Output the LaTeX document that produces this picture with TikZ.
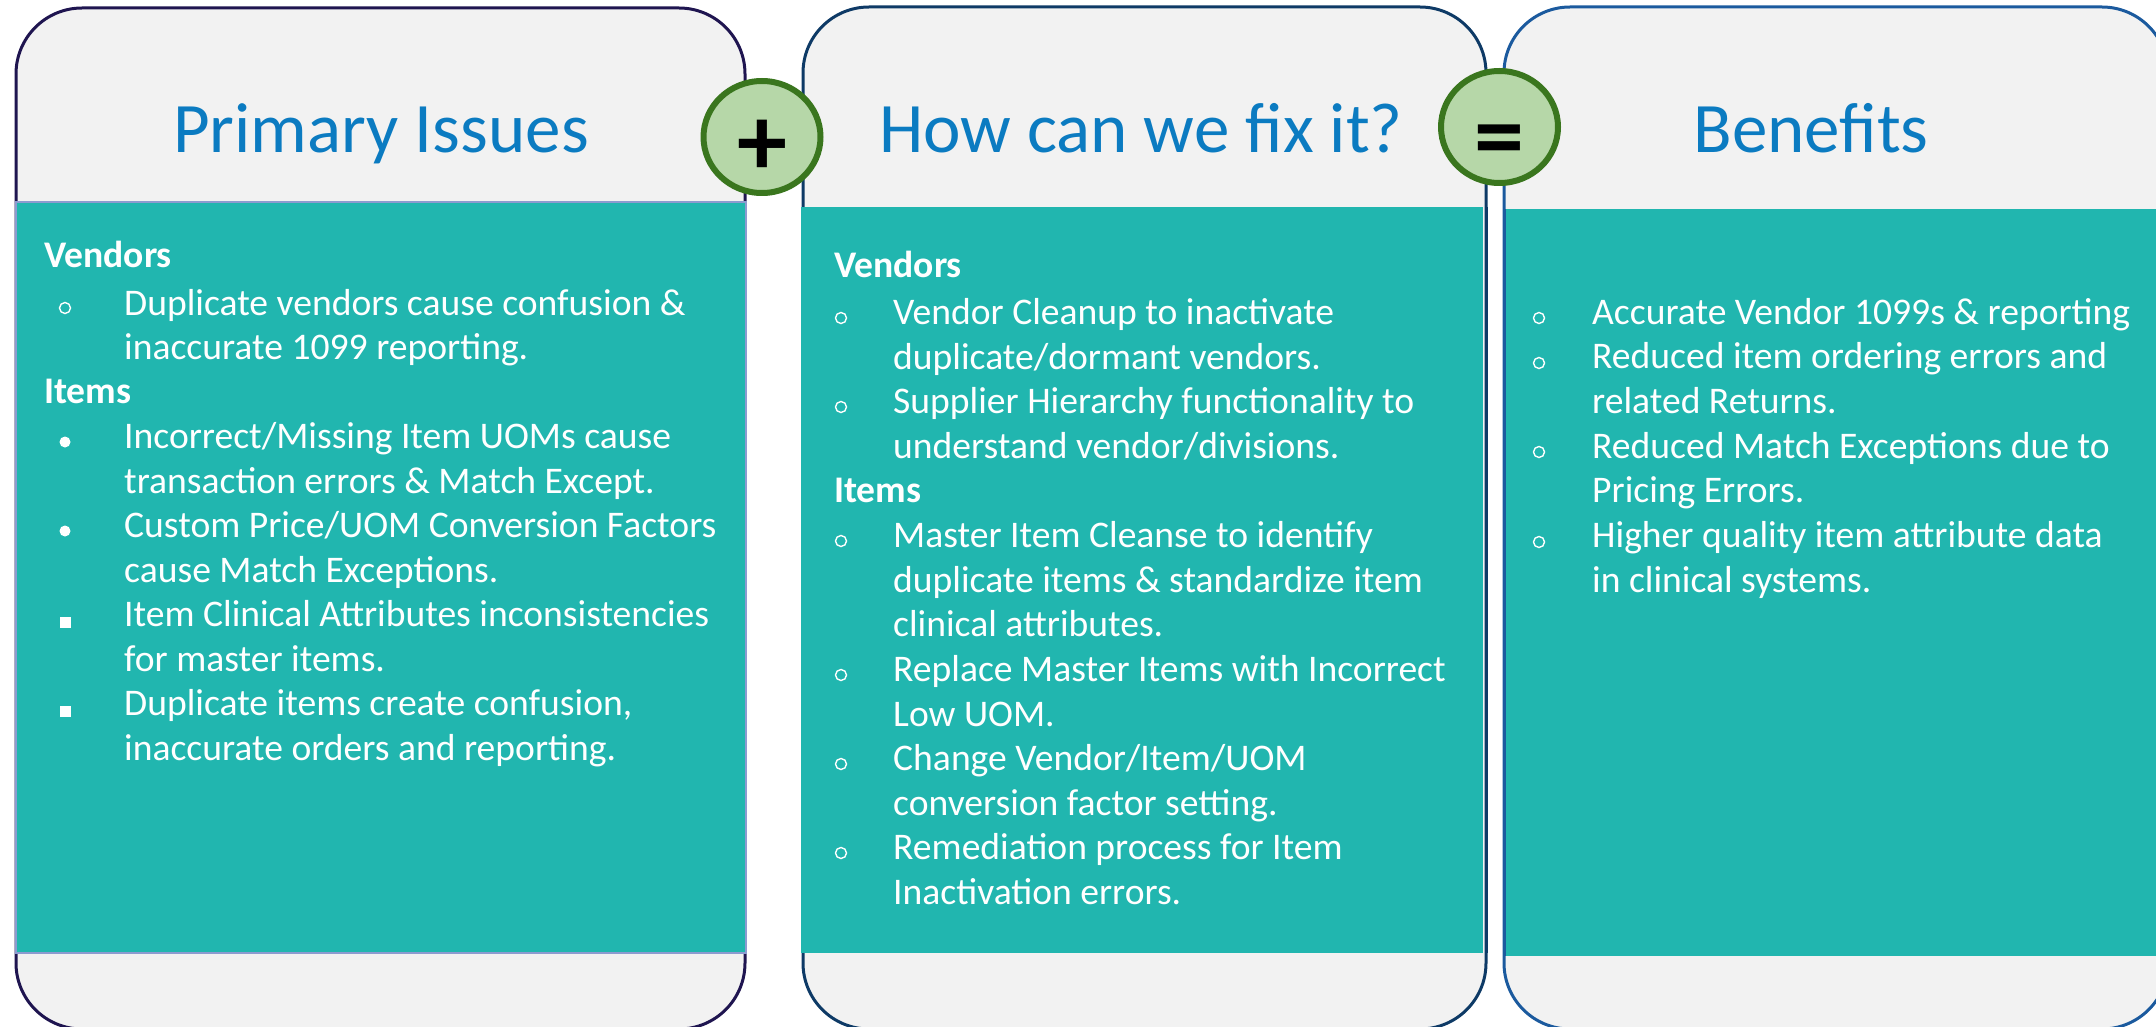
\documentclass[tikz,border=0pt]{standalone}
\usepackage{fontspec}
\setmainfont{Carlito}
\usetikzlibrary{shapes.geometric}
\definecolor{gpanel}{HTML}{F2F2F2}
\definecolor{tealbox}{HTML}{21B6AF}
\definecolor{outA}{HTML}{1F1550}
\definecolor{outB}{HTML}{0E3A66}
\definecolor{outC}{HTML}{1B5A9E}
\definecolor{tborder}{HTML}{8C9BD0}
\definecolor{titleblue}{HTML}{0B7BC1}
\definecolor{cfill}{HTML}{B6D7A8}
\definecolor{cdraw}{HTML}{3A761E}
\begin{document}
\begin{tikzpicture}[x=1pt,y=-1pt,
  panel/.style={draw, fill=gpanel, line width=3pt, rounded corners=66pt, inner sep=0pt, outer sep=0pt},
  tealrect/.style={fill=tealbox, inner sep=0pt, outer sep=0pt},
  ttl/.style={anchor=base, inner sep=0pt, text=titleblue, font=\fontsize{71}{85}\selectfont},
  opcirc/.style={ellipse, draw=cdraw, fill=cfill, line width=6pt, minimum width=117pt, minimum height=112pt, inner sep=0pt},
  opsign/.style={inner sep=0pt, text=black, font=\fontsize{100}{110}\selectfont\bfseries},
  body/.style={anchor=base west, inner sep=0pt, text=white, font=\fontsize{37.6}{45}\selectfont},
  head/.style={anchor=base west, inner sep=0pt, text=white, font=\fontsize{37.6}{45}\selectfont\bfseries},
  hb/.style={circle, draw=white, line width=1.4pt, minimum size=11pt, inner sep=0pt},
  fb/.style={circle, fill=white, minimum size=11pt, inner sep=0pt},
  sb/.style={rectangle, fill=white, minimum size=11pt, inner sep=0pt}
]
\useasboundingbox (0,0) rectangle (2156,1027);
\clip (0,0) rectangle (2156,1027);

% panels
\node[panel, draw=outA, minimum width=729pt, minimum height=1021pt] (P1) at (380.5,518.5) {};
\node[panel, draw=outB, minimum width=683pt, minimum height=1022pt] (P2) at (1144.5,518) {};
\node[panel, draw=outC, minimum width=664pt, minimum height=1022pt] (P3) at (1836,518) {};

% teal areas
\node[tealrect, draw=tborder, line width=1.2pt, minimum width=730pt, minimum height=751pt] (T1) at (381,577.5) {};
\node[tealrect, minimum width=682pt, minimum height=746pt] (T2) at (1142,580) {};
\node[tealrect, minimum width=655pt, minimum height=747pt] (T3) at (1833,582.5) {};
\draw[outB, line width=3pt] (T2.north east) ++(3,0) coordinate (e2a) -- (e2a |- T2.south);
\draw[outC, line width=3pt] (T3.north west) ++(-1,0) coordinate (e3a) -- (e3a |- T3.south);

% titles
\node[ttl] (H1) at (381,153) {Primary Issues};
\node[ttl] (H2) at (1141,153) {How can we fix it?};
\node[ttl] (H3) at (1811,153) {Benefits};

% operator circles
\node[opcirc] (C1) at (762,137) {};
\node[opcirc] (C2) at (1499.5,127) {};
\node[opsign] (S1) at (762,148) {+};
\node[opsign] (S2) at (1499.5,147) {=};

% panel 1 text
\node[head] (a0) at (44,268) {Vendors};
\node[hb] (ab1) at (65,308) {};
\node[body] (a1) at (124,315) {Duplicate vendors cause confusion \&};
\node[body] (a2) at (124,359.5) {inaccurate 1099 reporting.};
\node[head] (a3) at (44,403.5) {Items};
\node[fb] (ab2) at (65,442) {};
\node[body] (a4) at (124,448.5) {Incorrect/Missing Item UOMs cause};
\node[body] (a5) at (124,493) {transaction errors \& Match Except.};
\node[fb] (ab3) at (65,531) {};
\node[body] (a6) at (124,537.5) {Custom Price/UOM Conversion Factors};
\node[body] (a7) at (124,582) {cause Match Exceptions.};
\node[sb] (ab4) at (65,622) {};
\node[body] (a8) at (124,626.5) {Item Clinical Attributes inconsistencies};
\node[body] (a9) at (124,671) {for master items.};
\node[sb] (ab5) at (65,711) {};
\node[body] (a10) at (124,715.5) {Duplicate items create confusion,};
\node[body] (a11) at (124,760) {inaccurate orders and reporting.};

% panel 2 text
\node[head] (b0) at (834,278) {Vendors};
\node[hb] (bb1) at (841,318) {};
\node[body] (b1) at (893,324.6) {Vendor Cleanup to inactivate};
\node[body] (b2) at (893,369.2) {duplicate/dormant vendors.};
\node[hb] (bb2) at (841,407) {};
\node[body] (b3) at (893,413.8) {Supplier Hierarchy functionality to};
\node[body] (b4) at (893,458.4) {understand vendor/divisions.};
\node[head] (b5) at (834,502.5) {Items};
\node[hb] (bb3) at (841,541) {};
\node[body] (b6) at (893,547.6) {Master Item Cleanse to identify};
\node[body] (b7) at (893,592.2) {duplicate items \& standardize item};
\node[body] (b8) at (893,636.8) {clinical attributes.};
\node[hb] (bb4) at (841,675) {};
\node[body] (b9) at (893,681.4) {Replace Master Items with Incorrect};
\node[body] (b10) at (893,726) {Low UOM.};
\node[hb] (bb5) at (841,764) {};
\node[body] (b11) at (893,770.6) {Change Vendor/Item/UOM};
\node[body] (b12) at (893,815.2) {conversion factor setting.};
\node[hb] (bb6) at (841,853) {};
\node[body] (b13) at (893,859.8) {Remediation process for Item};
\node[body] (b14) at (893,904.4) {Inactivation errors.};

% panel 3 text
\node[hb] (cb1) at (1539,318) {};
\node[body] (c1) at (1592,324) {Accurate Vendor 1099s \& reporting};
\node[hb] (cb2) at (1539,363) {};
\node[body] (c2) at (1592,368.7) {Reduced item ordering errors and};
\node[body] (c3) at (1592,413.4) {related Returns.};
\node[hb] (cb3) at (1539,452) {};
\node[body] (c4) at (1592,458.1) {Reduced Match Exceptions due to};
\node[body] (c5) at (1592,502.8) {Pricing Errors.};
\node[hb] (cb4) at (1539,542) {};
\node[body] (c6) at (1592,547.5) {Higher quality item attribute data};
\node[body] (c7) at (1592,592.2) {in clinical systems.};
\end{tikzpicture}
\end{document}
